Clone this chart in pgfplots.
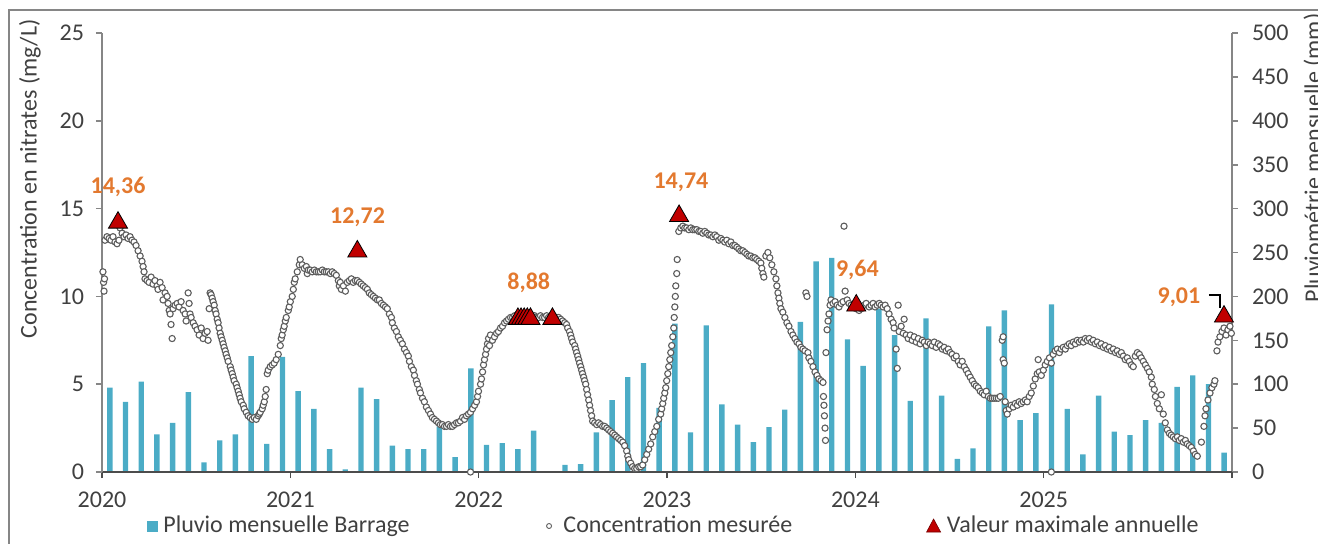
\documentclass[border=0pt]{standalone}
\usepackage{pgfplots}
\pgfplotsset{compat=1.18}
\usepackage{fontspec}
\setmainfont{Carlito}
\definecolor{barc}{HTML}{4BACC6}
\definecolor{mxc}{HTML}{C00000}
\definecolor{lblc}{HTML}{E3792F}
\definecolor{axc}{HTML}{868686}
\definecolor{txc}{HTML}{404040}
\definecolor{ptc}{HTML}{404040}
\begin{document}
\begin{tikzpicture}
\useasboundingbox (-51pt,-35.5pt) rectangle (608pt,236pt);
\draw[axc, line width=1pt] (-46.5pt,-60pt) -- (-46.5pt,231pt) -- (640pt,231pt);
% ---------- rainfall bars (right axis)
\begin{axis}[
  width=565pt, height=219.5pt, scale only axis, at={(0pt,0pt)}, anchor=south west,
  xmin=0, xmax=72, ymin=0, ymax=500,
  axis x line=none, axis y line*=right,
  y axis line style={axc, line width=0.8pt, -},
  ytick={0,50,...,500},
  tick align=outside, major tick length=3pt,
  ytick style={axc, line width=0.8pt},
  yticklabel style={font=\fontsize{12}{14}\selectfont, text=txc, xshift=3.5pt},
  /pgf/number format/assume math mode=true,
  ybar, bar width=2.7pt, clip=false,
]
\addplot[fill=barc, draw=none] coordinates {
(0.5,96)(1.5,80)(2.5,103)(3.5,43)(4.5,56)(5.5,91)(6.5,11)(7.5,36)(8.5,43)(9.5,132)(10.5,32)(11.5,131)
(12.5,92)(13.5,72)(14.5,26)(15.5,3)(16.5,96)(17.5,83)(18.5,30)(19.5,26)(20.5,26)(21.5,52)(22.5,17)(23.5,118)
(24.5,31)(25.5,33)(26.5,26)(27.5,47)(28.5,1)(29.5,8)(30.5,9)(31.5,45)(32.5,82)(33.5,108)(34.5,124)(35.5,73)
(36.5,169)(37.5,45)(38.5,167)(39.5,77)(40.5,54)(41.5,34)(42.5,51)(43.5,71)(44.5,171)(45.5,240)(46.5,244)(47.5,151)
(48.5,121)(49.5,186)(50.5,156)(51.5,81)(52.5,175)(53.5,87)(54.5,15)(55.5,27)(56.5,166)(57.5,184)(58.5,59)(59.5,67)
(60.5,191)(61.5,72)(62.5,20)(63.5,87)(64.5,46)(65.5,42)(66.5,59)(67.5,56)(68.5,97)(69.5,110)(70.5,100)(71.5,22)
};
\end{axis}
% ---------- concentration (left axis)
\begin{axis}[
  width=565pt, height=219.5pt, scale only axis, at={(0pt,0pt)}, anchor=south west,
  xmin=0, xmax=72, ymin=0, ymax=25,
  axis x line*=bottom, axis y line*=left,
  x axis line style={black!70, line width=0.8pt, -},
  y axis line style={axc, line width=0.8pt, -},
  xtick={0,12,...,72}, xticklabels={2020,2021,2022,2023,2024,2025,{}},
  ytick={0,5,...,25},
  tick align=outside, major tick length=3pt,
  xtick style={black!70, line width=0.8pt},
  ytick style={axc, line width=0.8pt},
  xticklabel style={font=\fontsize{12}{14}\selectfont, text=txc, yshift=-3.5pt},
  yticklabel style={font=\fontsize{12}{14}\selectfont, text=txc, xshift=-2.5pt},
  /pgf/number format/assume math mode=true,
  clip=false,
  legend columns=3,
  legend style={at={(0.505,-0.123)}, anchor=center, draw=none, fill=none,
    font=\fontsize{12}{14}\selectfont, text=txc,
    nodes={inner xsep=0pt, inner ysep=1pt},
    /tikz/every even column/.append style={column sep=67pt}},
]
\addlegendimage{legend image code/.code={\fill[barc] (0pt,-2.5pt) rectangle (5pt,2.5pt); \path (8pt,0pt);}}
\addlegendentry{Pluvio mensuelle Barrage}
\addplot[only marks, mark=*, mark size=1.55pt, mark options={draw=ptc!85, fill=white, line width=0.55pt},
  legend image code/.code={\draw[draw=ptc!85, fill=white, line width=0.45pt] (2.5pt,0pt) circle (1.25pt); \path (0pt,0pt) (9.5pt,0pt);}]
coordinates {
(0.06,11.4)(0.10,10.8)(0.13,10.3)(0.16,11.0)(0.19,13.2)(0.32,13.4)(0.45,13.3)(0.57,13.2)(0.70,13.4)(0.83,13.1)(0.96,13.0)(1.08,13.2)(1.15,13.9)(1.28,13.6)(1.40,13.4)(1.53,13.5)(1.66,13.3)(1.79,13.4)(1.91,13.2)(2.04,13.1)(2.17,12.9)(2.30,12.6)(2.43,12.3)(2.55,12.0)(2.62,11.7)(2.68,11.4)(2.74,11.0)(2.87,10.9)(3.00,10.8)(3.13,11.1)(3.25,10.7)(3.38,10.9)(3.51,10.6)(3.57,10.4)(3.70,10.8)(3.83,10.5)(3.89,9.8)(4.02,10.2)(4.15,10.0)(4.21,9.6)(4.28,9.2)(4.34,9.0)(4.40,8.4)(4.47,7.6)(4.53,9.3)(4.66,9.5)(4.79,9.6)(4.91,9.4)(5.04,9.7)(5.17,9.2)(5.30,9.0)(5.36,8.6)(5.49,10.2)(5.55,9.6)(5.61,9.0)(5.68,8.8)(5.81,8.5)(5.93,8.3)(6.06,8.1)(6.19,7.8)(6.32,8.2)(6.44,7.6)(6.57,7.9)(6.70,8.0)(6.76,7.5)(6.83,9.3)(6.89,10.2)(6.95,10.1)(7.02,9.9)(7.08,9.7)(7.15,9.5)(7.21,9.2)(7.27,9.0)(7.34,8.7)(7.40,8.5)(7.46,8.2)(7.53,7.9)(7.59,7.7)(7.66,7.5)(7.72,7.3)(7.78,7.1)(7.85,6.9)(7.91,6.7)(7.98,6.5)(8.04,6.3)(8.17,6.0)(8.23,5.8)(8.30,5.6)(8.36,5.4)(8.42,5.2)(8.55,5.0)(8.61,4.8)(8.68,4.6)(8.74,4.4)(8.80,4.2)(8.87,4.0)(9.00,3.8)(9.06,3.6)(9.19,3.4)(9.31,3.2)(9.44,3.1)(9.57,3.0)(9.70,3.1)(9.83,3.0)(9.95,3.2)(10.02,3.3)(10.08,3.4)(10.21,3.6)(10.27,3.8)(10.34,4.0)(10.40,4.3)(10.46,4.7)(10.53,5.6)(10.59,5.8)(10.72,6.0)(10.85,6.1)(10.97,6.2)(11.10,6.4)(11.23,6.7)(11.36,7.2)(11.42,7.6)(11.48,7.8)(11.55,8.1)(11.61,8.3)(11.68,8.6)(11.74,8.8)(11.87,9.2)(11.93,9.4)(12.00,9.7)(12.12,10.0)(12.19,10.4)(12.25,10.8)(12.31,11.0)(12.44,11.4)(12.57,11.8)(12.63,12.1)(12.76,11.8)(12.89,11.6)(13.02,11.7)(13.08,11.3)(13.14,11.5)(13.27,11.5)(13.40,11.4)(13.53,11.5)(13.65,11.4)(13.78,11.4)(13.91,11.4)(14.04,11.5)(14.16,11.4)(14.29,11.4)(14.42,11.4)(14.55,11.3)(14.67,11.4)(14.80,11.3)(14.93,11.2)(15.06,10.9)(15.12,10.6)(15.18,10.8)(15.25,10.4)(15.38,10.6)(15.51,10.3)(15.63,10.8)(15.76,10.9)(15.89,11.0)(16.01,10.8)(16.14,10.9)(16.27,10.9)(16.40,10.8)(16.52,10.7)(16.65,10.6)(16.78,10.5)(16.91,10.4)(17.03,10.2)(17.16,10.1)(17.29,10.0)(17.42,9.9)(17.55,9.8)(17.67,9.8)(17.80,9.6)(17.93,9.5)(18.06,9.4)(18.18,9.3)(18.31,9.0)(18.44,8.8)(18.50,8.5)(18.63,8.2)(18.76,8.0)(18.88,7.7)(19.01,7.5)(19.14,7.3)(19.27,7.0)(19.40,6.8)(19.52,6.6)(19.59,6.3)(19.71,6.0)(19.84,5.8)(19.91,5.5)(20.03,5.2)(20.10,5.0)(20.22,4.7)(20.29,4.5)(20.42,4.2)(20.54,4.0)(20.67,3.7)(20.80,3.5)(20.93,3.3)(21.05,3.1)(21.18,3.0)(21.31,2.9)(21.44,2.8)(21.56,2.7)(21.69,2.7)(21.82,2.6)(21.95,2.6)(22.07,2.7)(22.20,2.6)(22.33,2.6)(22.46,2.7)(22.59,2.8)(22.71,2.8)(22.84,2.9)(22.97,3.1)(23.10,3.0)(23.22,3.2)(23.35,3.3)(23.48,0.0)(23.48,3.4)(23.61,3.6)(23.74,3.8)(23.86,4.0)(23.93,4.3)(23.99,4.6)(24.12,5.0)(24.18,5.3)(24.25,5.7)(24.31,6.1)(24.37,6.4)(24.44,6.7)(24.50,7.0)(24.56,7.3)(24.63,7.6)(24.69,7.2)(24.75,7.8)(24.88,7.5)(25.01,7.7)(25.14,7.9)(25.26,8.0)(25.39,8.2)(25.52,8.3)(25.65,8.5)(25.78,8.6)(25.90,8.7)(26.03,8.8)(26.16,8.8)(26.29,8.9)(26.41,8.8)(26.54,8.9)(26.67,8.8)(26.80,8.9)(26.92,8.8)(27.05,8.8)(27.18,8.9)(27.31,8.8)(27.43,8.8)(27.56,8.9)(27.69,8.8)(27.82,8.8)(27.94,8.9)(28.07,8.8)(28.20,8.8)(28.33,8.9)(28.45,8.8)(28.58,8.8)(28.71,8.9)(28.84,8.8)(28.96,8.8)(29.09,8.8)(29.22,8.7)(29.35,8.6)(29.48,8.5)(29.60,8.4)(29.67,8.2)(29.79,8.0)(29.86,7.8)(29.92,7.6)(29.99,7.4)(30.12,7.2)(30.18,7.0)(30.24,6.8)(30.31,6.6)(30.37,6.4)(30.43,6.2)(30.50,6.0)(30.56,5.8)(30.62,5.6)(30.69,5.4)(30.75,5.2)(30.82,5.0)(30.88,4.7)(30.94,4.4)(31.01,4.1)(31.07,3.8)(31.13,3.5)(31.20,3.2)(31.26,2.9)(31.39,2.8)(31.52,2.7)(31.64,2.8)(31.77,2.7)(31.90,2.6)(32.03,2.6)(32.16,2.5)(32.28,2.4)(32.41,2.3)(32.54,2.2)(32.67,2.1)(32.79,2.0)(32.92,1.9)(33.05,1.8)(33.18,1.7)(33.30,1.5)(33.43,1.2)(33.50,0.9)(33.56,0.7)(33.69,0.5)(33.81,0.3)(33.94,0.2)(34.07,0.2)(34.20,0.3)(34.32,0.3)(34.45,0.4)(34.58,0.7)(34.71,1.0)(34.83,1.3)(34.96,1.6)(35.09,2.0)(35.22,2.3)(35.35,2.6)(35.47,3.0)(35.60,3.3)(35.66,3.6)(35.73,3.9)(35.79,4.2)(35.86,4.5)(35.92,4.8)(35.98,5.2)(36.05,5.6)(36.11,6.0)(36.18,6.4)(36.24,6.8)(36.30,7.2)(36.37,7.7)(36.43,8.2)(36.46,8.8)(36.50,9.4)(36.53,10.0)(36.56,10.6)(36.62,11.3)(36.65,12.1)(36.75,13.7)(36.88,13.9)(37.01,14.0)(37.13,13.9)(37.26,13.9)(37.39,13.8)(37.52,13.9)(37.64,13.8)(37.77,13.8)(37.90,13.8)(38.03,13.7)(38.15,13.7)(38.28,13.6)(38.41,13.7)(38.54,13.6)(38.66,13.5)(38.79,13.5)(38.92,13.4)(39.05,13.5)(39.17,13.4)(39.30,13.2)(39.43,13.3)(39.56,13.2)(39.68,13.1)(39.81,13.2)(39.94,13.0)(40.07,13.1)(40.19,12.9)(40.32,12.9)(40.45,12.8)(40.58,12.7)(40.70,12.6)(40.83,12.6)(40.96,12.5)(41.09,12.4)(41.21,12.3)(41.34,12.3)(41.47,12.2)(41.60,12.2)(41.72,12.1)(41.85,12.0)(41.98,11.9)(42.04,11.6)(42.11,11.3)(42.17,11.1)(42.30,12.3)(42.43,12.5)(42.55,12.2)(42.68,11.8)(42.81,11.4)(42.94,11.0)(43.00,10.6)(43.07,10.2)(43.13,9.9)(43.19,9.6)(43.26,9.3)(43.38,9.1)(43.51,8.8)(43.64,8.5)(43.77,8.3)(43.90,8.0)(44.02,7.8)(44.15,7.6)(44.28,7.4)(44.41,7.3)(44.53,7.1)(44.66,7.0)(44.79,6.9)(44.85,10.2)(44.92,10.0)(44.98,6.8)(45.04,6.5)(45.17,6.3)(45.30,6.0)(45.43,5.7)(45.56,5.5)(45.68,5.3)(45.81,5.2)(45.94,5.1)(45.97,4.3)(46.00,3.8)(46.03,3.2)(46.07,2.5)(46.10,1.8)(46.13,6.8)(46.20,8.1)(46.26,8.6)(46.32,9.0)(46.39,9.5)(46.45,9.8)(46.58,9.6)(46.71,9.7)(46.84,9.5)(46.96,9.4)(47.09,9.6)(47.22,9.7)(47.28,14.0)(47.35,10.3)(47.48,9.8)(47.60,9.6)(47.73,9.5)(47.86,9.4)(48.05,9.3)(48.24,9.2)(48.37,9.3)(48.56,9.5)(48.69,9.6)(48.88,9.4)(49.00,9.5)(49.13,9.6)(49.26,9.4)(49.39,9.5)(49.52,9.6)(49.64,9.5)(49.77,9.4)(49.90,9.5)(50.03,9.3)(50.15,9.0)(50.28,8.7)(50.41,8.5)(50.47,8.2)(50.60,7.0)(50.67,5.9)(50.73,9.5)(50.79,8.0)(50.92,8.3)(51.05,7.9)(51.11,8.7)(51.24,7.8)(51.37,7.6)(51.50,7.8)(51.62,7.5)(51.75,7.7)(51.88,7.4)(52.01,7.6)(52.13,7.3)(52.26,7.5)(52.39,7.4)(52.52,7.2)(52.64,7.4)(52.77,7.3)(52.90,7.2)(53.03,7.4)(53.15,7.1)(53.28,7.3)(53.41,7.2)(53.54,7.0)(53.66,7.1)(53.79,6.9)(53.92,7.0)(54.05,6.8)(54.17,6.7)(54.30,6.5)(54.43,6.6)(54.56,6.3)(54.68,6.1)(54.81,6.3)(54.94,6.0)(55.07,5.8)(55.19,5.6)(55.32,5.4)(55.45,5.2)(55.58,5.0)(55.70,4.9)(55.83,4.8)(55.96,4.6)(56.09,4.5)(56.21,4.4)(56.34,4.6)(56.47,4.3)(56.60,4.2)(56.72,4.2)(56.85,4.2)(56.98,4.2)(57.11,4.2)(57.23,4.3)(57.36,7.5)(57.42,7.7)(57.42,6.4)(57.49,6.2)(57.55,4.0)(57.61,3.5)(57.68,3.3)(57.81,3.6)(57.93,3.8)(58.06,3.7)(58.19,3.9)(58.32,3.8)(58.44,4.0)(58.57,3.9)(58.70,4.0)(58.83,4.1)(58.95,4.0)(59.08,4.3)(59.21,4.5)(59.34,4.9)(59.46,5.3)(59.59,5.6)(59.65,6.4)(59.72,5.7)(59.85,5.5)(59.98,5.8)(60.10,6.1)(60.23,6.3)(60.37,6.5)(60.49,0.0)(60.49,6.2)(60.61,6.7)(60.74,6.9)(60.87,7.0)(61.00,6.8)(61.12,7.0)(61.25,7.1)(61.38,7.0)(61.51,7.2)(61.63,7.3)(61.76,7.2)(61.89,7.4)(62.02,7.3)(62.14,7.5)(62.27,7.4)(62.40,7.5)(62.53,7.4)(62.65,7.6)(62.78,7.5)(62.91,7.6)(63.04,7.4)(63.16,7.5)(63.29,7.3)(63.42,7.4)(63.55,7.2)(63.67,7.3)(63.80,7.1)(63.93,7.2)(64.06,7.0)(64.18,7.1)(64.31,6.9)(64.44,7.0)(64.57,6.8)(64.69,6.9)(64.82,6.7)(64.95,6.8)(65.08,6.6)(65.20,6.4)(65.33,6.5)(65.46,6.3)(65.59,6.1)(65.71,6.0)(65.84,6.6)(65.97,6.8)(66.10,6.7)(66.22,6.5)(66.35,6.3)(66.48,6.1)(66.61,5.9)(66.73,5.7)(66.86,5.4)(66.92,5.0)(67.05,4.7)(67.12,4.3)(67.24,3.9)(67.37,3.6)(67.50,4.4)(67.62,3.3)(67.75,2.8)(67.88,2.4)(68.01,2.2)(68.13,2.1)(68.26,2.0)(68.39,1.9)(68.52,2.0)(68.64,1.8)(68.77,1.9)(68.90,1.7)(69.03,1.8)(69.15,1.6)(69.28,1.5)(69.41,1.4)(69.54,1.2)(69.66,1.0)(69.79,0.9)(70.05,1.7)(70.21,2.6)(70.28,3.2)(70.34,3.6)(70.47,4.1)(70.60,4.5)(70.72,4.8)(70.85,5.0)(70.91,5.2)(71.04,6.9)(71.11,7.4)(71.23,7.7)(71.36,8.0)(71.49,8.2)(71.62,7.8)(71.74,8.1)(71.87,8.3)(71.96,7.9)
};
\addlegendentry{Concentration mesurée}
\addplot[only marks, mark=triangle*, mark size=5.5pt, mark options={fill=mxc, draw=black, line width=0.4pt, yshift=-1.4pt},
  legend image code/.code={\draw[fill=mxc, draw=mxc!60!black, line width=0.3pt] (0pt,-3pt) -- (7pt,-3pt) -- (3.5pt,3.5pt) -- cycle; \path (10pt,0pt);}]
coordinates {(1.02,14.36)(16.27,12.72)(26.5,8.88)(26.7,8.88)(26.9,8.88)(27.1,8.88)(27.3,8.88)(28.7,8.88)(36.77,14.74)(48.06,9.64)(71.49,9.01)};
\addlegendentry{Valeur maximale annuelle}
\begin{scope}[every node/.style={font=\fontsize{12}{14}\selectfont\bfseries, text=lblc}]
\node at (axis cs:1.02,16.23) {14,36};
\node at (axis cs:16.28,14.52) {12,72};
\node at (axis cs:27.19,10.76) {8,88};
\node at (axis cs:36.89,16.51) {14,74};
\node at (axis cs:48.13,11.50) {9,64};
\node at (axis cs:68.62,9.97) {9,01};
\end{scope}
\draw[black, line width=0.8pt] (axis cs:70.53,10.08) -- (axis cs:71.23,10.08) -- (axis cs:71.23,9.35);
\end{axis}
\node[rotate=90, font=\fontsize{12}{14}\selectfont, text=txc] at (-36pt,146.5pt) {Concentration en nitrates (mg/L)};
\node[rotate=90, font=\fontsize{12}{14}\selectfont, text=txc] at (606pt,157pt) {Pluviométrie mensuelle (mm)};
\end{tikzpicture}
\end{document}
